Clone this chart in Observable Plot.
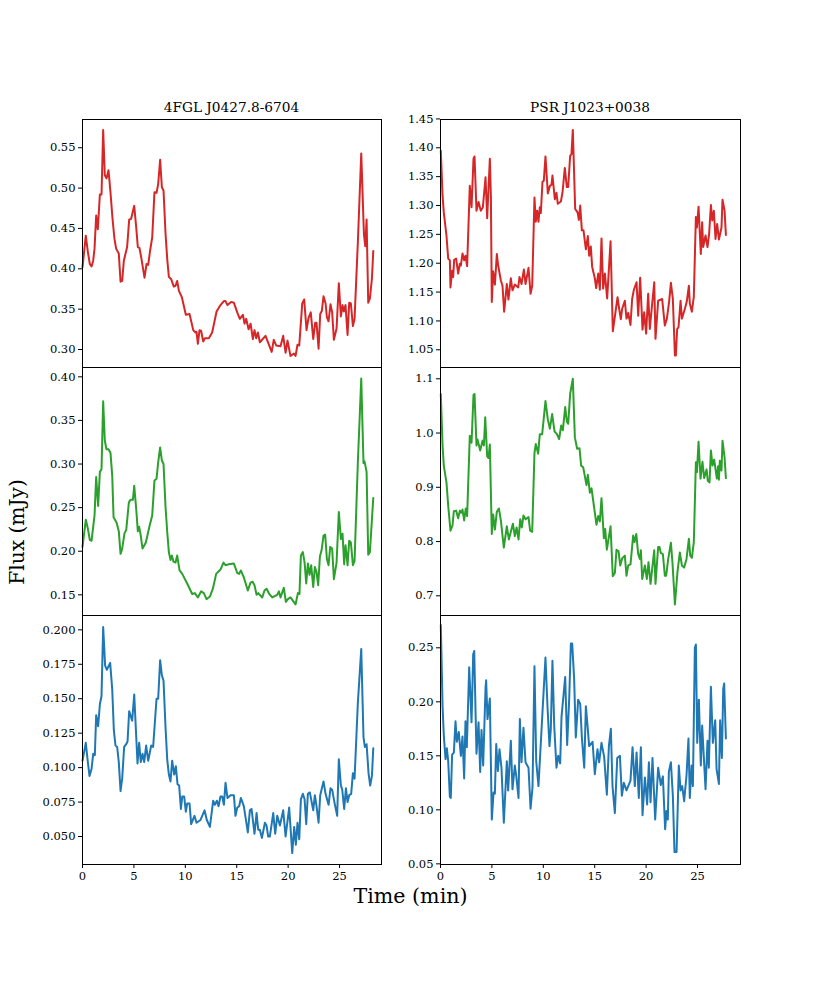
<!DOCTYPE html>
<html>
<head>
<meta charset="utf-8">
<script src="https://cdn.jsdelivr.net/npm/d3@7"></script>
<script src="https://cdn.jsdelivr.net/npm/@observablehq/plot@0.6"></script>
<style>
  body { margin: 0; background: white; }
  #fig { position: relative; width: 822px; height: 987px; font-family: "DejaVu Serif", serif; color: #000; }
  #fig svg { position: absolute; }
  .lab { position: absolute; white-space: nowrap; transform: translate(-50%, -50%); }
</style>
</head>
<body>
<div id="fig"></div>
<script>
// [time (min), flux (mJy)]
const j0427Red = [[0,.402],[.32,.441],[.52,.421],[.71,.406],[.88,.403],[1.04,.41],[1.17,.425],[1.33,.466],[1.49,.449],[1.69,.492],[1.85,.492],[2.01,.572],[2.17,.516],[2.33,.512],[2.53,.522],[2.72,.495],[2.92,.462],[3.11,.437],[3.27,.425],[3.53,.419],[3.7,.384],[3.86,.385],[4.02,.41],[4.34,.427],[4.54,.461],[4.73,.462],[5.03,.478],[5.22,.452],[5.38,.427],[5.54,.426],[5.74,.412],[6.03,.389],[6.23,.406],[6.39,.405],[6.58,.423],[6.78,.439],[7,.495],[7.2,.494],[7.36,.505],[7.55,.535],[7.72,.501],[7.88,.497],[8.07,.445],[8.24,.412],[8.4,.39],[8.63,.387],[8.88,.378],[9.05,.379],[9.21,.385],[9.37,.373],[9.66,.365],[10.05,.343],[10.41,.344],[10.77,.324],[10.99,.321],[11.09,.322],[11.22,.307],[11.38,.324],[11.54,.323],[11.74,.31],[11.9,.314],[12.29,.314],[12.61,.321],[13.04,.347],[13.36,.354],[13.75,.36],[13.91,.36],[14.1,.355],[14.46,.359],[14.72,.358],[15.05,.346],[15.3,.338],[15.6,.343],[15.76,.332],[15.92,.338],[16.15,.325],[16.35,.332],[16.57,.313],[16.73,.324],[16.9,.314],[17.06,.321],[17.25,.309],[17.8,.317],[18.1,.307],[18.4,.297],[18.6,.312],[18.84,.305],[19.26,.304],[19.52,.317],[19.75,.296],[19.94,.311],[20.23,.292],[20.56,.295],[20.72,.292],[20.91,.306],[21.08,.305],[21.37,.357],[21.56,.362],[21.79,.324],[21.98,.339],[22.2,.346],[22.44,.313],[22.63,.333],[22.76,.333],[22.96,.301],[23.12,.344],[23.28,.348],[23.44,.366],[23.64,.357],[23.77,.34],[23.93,.335],[24.12,.356],[24.28,.346],[24.45,.312],[24.71,.326],[24.93,.382],[25.13,.341],[25.29,.355],[25.42,.347],[25.58,.355],[25.78,.318],[25.94,.358],[26.1,.357],[26.3,.329],[26.46,.338],[26.78,.433],[27.11,.543],[27.37,.443],[27.5,.428],[27.63,.461],[27.79,.358],[27.95,.363],[28.15,.388],[28.28,.422]];

const j0427Green = [[0,.205],[.32,.236],[.52,.226],[.71,.213],[.88,.212],[1.17,.241],[1.33,.285],[1.52,.252],[1.69,.291],[1.85,.294],[2.01,.372],[2.17,.327],[2.33,.317],[2.53,.317],[2.72,.313],[2.89,.287],[3.02,.239],[3.31,.233],[3.53,.223],[3.7,.197],[3.86,.203],[4.09,.221],[4.25,.224],[4.51,.256],[4.67,.259],[4.9,.259],[5.03,.275],[5.22,.249],[5.38,.223],[5.51,.228],[5.64,.22],[5.84,.203],[6.16,.21],[6.52,.229],[6.78,.241],[7,.281],[7.2,.283],[7.36,.302],[7.55,.319],[7.72,.304],[7.88,.3],[8.07,.252],[8.24,.222],[8.4,.199],[8.56,.19],[8.69,.195],[8.85,.188],[9.05,.187],[9.21,.195],[9.44,.178],[9.7,.174],[10.18,.163],[10.67,.151],[10.93,.152],[11.22,.147],[11.54,.154],[11.8,.152],[12.06,.145],[12.39,.148],[12.68,.157],[13,.174],[13.16,.176],[13.42,.179],[13.71,.187],[13.91,.184],[14.23,.185],[14.72,.186],[15.05,.175],[15.24,.174],[15.4,.178],[15.69,.17],[16.08,.155],[16.34,.164],[16.54,.165],[16.73,.161],[16.93,.15],[17.09,.152],[17.48,.147],[17.7,.155],[17.9,.157],[18.16,.151],[18.45,.147],[18.94,.15],[19.1,.154],[19.26,.147],[19.58,.158],[19.78,.142],[19.97,.145],[20.23,.147],[20.72,.139],[20.95,.152],[21.1,.151],[21.24,.195],[21.43,.199],[21.6,.187],[21.76,.163],[21.92,.186],[22.08,.173],[22.24,.184],[22.44,.159],[22.6,.182],[22.76,.176],[22.92,.161],[23.09,.194],[23.25,.201],[23.44,.218],[23.6,.219],[23.77,.191],[23.93,.184],[24.09,.205],[24.28,.203],[24.45,.168],[24.71,.187],[24.93,.245],[25.13,.214],[25.29,.22],[25.45,.185],[25.58,.207],[25.78,.184],[25.94,.212],[26.1,.21],[26.3,.184],[26.46,.189],[26.78,.302],[27.11,.398],[27.33,.301],[27.43,.303],[27.63,.291],[27.79,.196],[27.95,.199],[28.28,.261]];

const j0427Blue = [[0,.105],[.32,.118],[.52,.104],[.68,.094],[.88,.099],[1.04,.11],[1.2,.109],[1.33,.138],[1.52,.13],[1.69,.146],[1.85,.152],[2.01,.202],[2.2,.174],[2.37,.171],[2.69,.176],[2.89,.157],[3.05,.127],[3.21,.116],[3.37,.115],[3.53,.104],[3.7,.083],[3.86,.092],[4.05,.115],[4.25,.117],[4.38,.119],[4.54,.141],[4.83,.134],[5.03,.153],[5.19,.128],[5.35,.103],[5.51,.118],[5.67,.104],[5.84,.11],[6,.104],[6.19,.116],[6.39,.105],[6.68,.116],[6.87,.115],[7.2,.15],[7.36,.15],[7.55,.178],[7.72,.167],[7.88,.163],[8.07,.13],[8.24,.106],[8.4,.095],[8.56,.09],[8.72,.105],[8.92,.095],[9.08,.101],[9.24,.088],[9.4,.087],[9.57,.07],[9.7,.079],[9.89,.079],[10.05,.068],[10.18,.074],[10.41,.074],[10.57,.059],[10.89,.065],[11.09,.06],[11.48,.062],[11.87,.069],[12.09,.062],[12.39,.057],[12.71,.076],[12.87,.073],[13.07,.076],[13.23,.072],[13.42,.079],[13.59,.079],[13.75,.073],[13.91,.089],[14.1,.078],[14.4,.08],[14.72,.08],[14.88,.065],[15.05,.071],[15.24,.072],[15.4,.078],[15.69,.072],[16.08,.053],[16.28,.069],[16.44,.07],[16.73,.052],[16.93,.067],[17.09,.055],[17.25,.055],[17.45,.049],[17.74,.06],[17.9,.058],[18.06,.05],[18.22,.05],[18.55,.067],[18.74,.052],[18.94,.065],[19.2,.058],[19.52,.069],[19.75,.05],[20.1,.071],[20.4,.038],[20.59,.057],[20.75,.044],[20.91,.06],[21.08,.048],[21.24,.077],[21.43,.081],[21.6,.077],[21.76,.059],[21.92,.081],[22.11,.082],[22.44,.069],[22.6,.08],[22.76,.072],[22.96,.06],[23.12,.08],[23.44,.09],[23.64,.081],[23.93,.073],[24.12,.085],[24.28,.084],[24.55,.073],[24.77,.065],[24.93,.106],[25.13,.087],[25.26,.084],[25.45,.07],[25.62,.085],[25.78,.075],[25.94,.08],[26.13,.081],[26.3,.096],[26.46,.092],[26.78,.147],[27.11,.186],[27.33,.122],[27.46,.115],[27.63,.117],[27.82,.096],[27.98,.087],[28.15,.094],[28.28,.114]];

const j1023Red = [[.03,1.395],[.2,1.317],[.32,1.288],[.58,1.248],[.75,1.208],[.91,1.205],[.97,1.158],[1.13,1.187],[1.23,1.176],[1.33,1.206],[1.52,1.208],[1.72,1.182],[1.88,1.199],[1.98,1.196],[2.14,1.217],[2.3,1.205],[2.43,1.213],[2.59,1.195],[2.85,1.334],[3.02,1.297],[3.21,1.381],[3.31,1.385],[3.5,1.291],[3.7,1.306],[3.92,1.291],[4.12,1.297],[4.38,1.349],[4.54,1.278],[4.8,1.381],[4.9,1.317],[4.99,1.133],[5.12,1.186],[5.29,1.163],[5.48,1.216],[5.61,1.196],[5.87,1.17],[6.03,1.161],[6.19,1.116],[6.45,1.164],[6.61,1.137],[6.84,1.174],[7,1.153],[7.23,1.163],[7.56,1.158],[7.68,1.176],[7.88,1.164],[8.11,1.189],[8.27,1.164],[8.56,1.192],[8.76,1.147],[8.92,1.161],[9.14,1.314],[9.27,1.272],[9.4,1.291],[9.53,1.272],[9.66,1.297],[9.76,1.287],[9.92,1.341],[10.05,1.343],[10.21,1.385],[10.44,1.321],[10.64,1.334],[10.8,1.336],[10.89,1.352],[11.12,1.311],[11.28,1.322],[11.41,1.303],[11.71,1.307],[11.87,1.323],[12.09,1.365],[12.29,1.332],[12.42,1.332],[12.61,1.386],[12.74,1.389],[12.87,1.431],[13.1,1.294],[13.33,1.288],[13.46,1.275],[13.59,1.3],[13.75,1.257],[13.91,1.257],[14.14,1.224],[14.33,1.247],[14.46,1.213],[14.62,1.229],[14.75,1.194],[15.01,1.174],[15.14,1.157],[15.34,1.182],[15.5,1.154],[15.66,1.243],[15.82,1.156],[15.99,1.182],[16.21,1.139],[16.54,1.238],[16.76,1.082],[17.22,1.141],[17.38,1.121],[17.54,1.103],[17.67,1.121],[17.93,1.135],[18.09,1.104],[18.26,1.114],[18.48,1.093],[18.64,1.138],[18.81,1.154],[19.07,1.167],[19.23,1.109],[19.42,1.175],[19.65,1.085],[19.81,1.115],[20,1.078],[20.2,1.147],[20.36,1.086],[20.59,1.13],[20.79,1.167],[20.91,1.069],[21.17,1.135],[21.56,1.138],[21.82,1.092],[22.02,1.104],[22.24,1.134],[22.41,1.166],[22.6,1.138],[22.8,1.04],[22.89,1.04],[23.02,1.086],[23.15,1.089],[23.35,1.135],[23.48,1.104],[23.77,1.121],[23.96,1.134],[24.16,1.161],[24.25,1.13],[24.45,1.116],[24.64,1.142],[24.84,1.28],[24.94,1.262],[25.1,1.298],[25.32,1.216],[25.45,1.271],[25.55,1.228],[25.78,1.248],[25.97,1.228],[26.13,1.251],[26.3,1.301],[26.43,1.274],[26.59,1.291],[26.75,1.242],[26.91,1.268],[27.08,1.241],[27.33,1.262],[27.43,1.31],[27.63,1.291],[27.76,1.249]];

const j1023Green = [[.03,1.072],[.2,.977],[.32,.94],[.58,.909],[.75,.866],[.97,.82],[1.17,.83],[1.3,.856],[1.52,.857],[1.72,.843],[1.88,.857],[2.01,.853],[2.14,.859],[2.3,.839],[2.46,.861],[2.59,.847],[2.85,.995],[3.02,.982],[3.21,1.07],[3.31,1.072],[3.5,.977],[3.6,.988],[3.86,.968],[4.09,.986],[4.22,.977],[4.35,1.029],[4.54,.957],[4.67,.954],[4.8,.979],[4.99,.814],[5.12,.85],[5.29,.822],[5.48,.855],[5.68,.861],[5.87,.839],[6.16,.789],[6.45,.828],[6.65,.804],[7.04,.833],[7.23,.81],[7.4,.826],[7.59,.804],[7.75,.841],[7.91,.826],[8.07,.848],[8.27,.841],[8.56,.845],[8.72,.82],[8.92,.818],[9.14,.963],[9.27,.98],[9.5,.962],[9.66,.998],[9.89,.998],[10.21,1.059],[10.44,1.025],[10.64,1.008],[10.86,1.035],[11.09,1.003],[11.32,.998],[11.54,.989],[11.74,1.014],[11.9,1.005],[12.13,1.048],[12.29,1.021],[12.42,1.017],[12.61,1.072],[12.87,1.1],[13.07,.992],[13.29,.971],[13.52,.972],[13.68,.94],[13.88,.937],[14.2,.904],[14.33,.923],[14.53,.89],[14.69,.898],[14.92,.866],[15.17,.831],[15.34,.847],[15.5,.837],[15.66,.88],[15.89,.806],[16.02,.823],[16.18,.785],[16.54,.828],[16.76,.736],[16.96,.742],[17.12,.785],[17.32,.782],[17.48,.756],[17.67,.769],[17.93,.774],[18.09,.737],[18.26,.756],[18.48,.758],[18.74,.811],[18.87,.799],[19.04,.814],[19.23,.777],[19.39,.768],[19.49,.784],[19.62,.731],[19.88,.756],[20.07,.731],[20.23,.762],[20.43,.722],[20.79,.784],[20.91,.722],[21.17,.79],[21.3,.79],[21.43,.779],[21.63,.777],[21.82,.737],[21.95,.737],[22.15,.768],[22.41,.798],[22.57,.759],[22.8,.684],[23.05,.744],[23.28,.78],[23.48,.756],[23.7,.752],[23.93,.768],[24.16,.805],[24.29,.774],[24.45,.77],[24.64,.799],[24.84,.946],[24.94,.928],[25.1,.984],[25.29,.916],[25.48,.947],[25.65,.917],[25.88,.933],[26,.912],[26.17,.909],[26.3,.968],[26.46,.94],[26.62,.951],[26.88,.916],[27,.939],[27.08,.914],[27.17,.949],[27.33,.931],[27.43,.986],[27.63,.955],[27.76,.917]];

const j1023Blue = [[.03,.271],[.2,.196],[.32,.169],[.49,.147],[.62,.157],[.75,.145],[.91,.112],[1,.111],[1.13,.151],[1.3,.153],[1.46,.182],[1.59,.163],[1.78,.172],[1.98,.15],[2.14,.168],[2.3,.129],[2.43,.182],[2.56,.158],[2.79,.232],[3.02,.181],[3.18,.244],[3.28,.247],[3.5,.152],[3.7,.181],[3.86,.135],[3.99,.174],[4.15,.141],[4.38,.213],[4.44,.22],[4.57,.184],[4.8,.203],[4.99,.091],[5.16,.116],[5.29,.115],[5.42,.161],[5.58,.136],[5.74,.156],[5.93,.139],[6.16,.088],[6.45,.145],[6.58,.118],[6.84,.164],[7,.119],[7.23,.141],[7.36,.132],[7.59,.111],[7.72,.184],[7.88,.144],[8.07,.176],[8.27,.144],[8.56,.139],[8.76,.101],[8.95,.121],[9.14,.233],[9.31,.145],[9.53,.122],[9.82,.173],[10.21,.241],[10.41,.195],[10.6,.159],[10.73,.175],[10.89,.238],[11.06,.178],[11.28,.139],[11.45,.15],[11.64,.143],[11.77,.186],[12.13,.223],[12.32,.16],[12.52,.203],[12.68,.254],[12.81,.254],[13,.221],[13.16,.167],[13.39,.202],[13.59,.198],[13.75,.167],[13.98,.139],[14.14,.196],[14.3,.178],[14.46,.159],[14.79,.163],[15.01,.133],[15.27,.156],[15.43,.144],[15.66,.162],[15.92,.149],[16.18,.114],[16.38,.159],[16.57,.175],[16.73,.122],[16.96,.097],[17.19,.148],[17.45,.15],[17.64,.113],[17.83,.125],[18.09,.118],[18.48,.127],[18.68,.158],[18.9,.122],[19.07,.153],[19.29,.111],[19.49,.158],[19.65,.095],[19.88,.13],[20.1,.105],[20.27,.144],[20.43,.107],[20.62,.148],[20.88,.091],[21.17,.139],[21.43,.123],[21.63,.131],[21.85,.082],[21.98,.099],[22.11,.091],[22.21,.135],[22.41,.144],[22.6,.113],[22.76,.061],[22.96,.061],[23.18,.141],[23.35,.118],[23.51,.122],[23.7,.108],[23.93,.132],[24.12,.166],[24.25,.111],[24.42,.141],[24.55,.122],[24.74,.25],[24.84,.253],[24.97,.162],[25.13,.202],[25.32,.141],[25.45,.178],[25.78,.119],[25.97,.164],[26.1,.139],[26.3,.214],[26.49,.162],[26.72,.183],[26.85,.138],[27.08,.124],[27.2,.183],[27.37,.148],[27.5,.212],[27.59,.217],[27.76,.166]];

// tick labels per panel
const xTicks = [0, 5, 10, 15, 20, 25];
const ticksLT = [0.30, 0.35, 0.40, 0.45, 0.50, 0.55];
const ticksLM = [0.15, 0.20, 0.25, 0.30, 0.35, 0.40];
const ticksLB = [0.050, 0.075, 0.100, 0.125, 0.150, 0.175, 0.200];
const ticksRT = [1.05, 1.10, 1.15, 1.20, 1.25, 1.30, 1.35, 1.40, 1.45];
const ticksRM = [0.7, 0.8, 0.9, 1.0, 1.1];
const ticksRB = [0.05, 0.10, 0.15, 0.20, 0.25];

const fig = document.getElementById("fig");
const mLeft = 50, mRight = 2, mTop = 2;

function panel(o) {
  const bottomRow = o.top > 600;
  const mBottom = bottomRow ? 26 : 2;
  const chart = Plot.plot({
    width: mLeft + o.w + mRight,
    height: mTop + o.h + mBottom,
    marginLeft: mLeft, marginRight: mRight, marginTop: mTop, marginBottom: mBottom,
    style: {background: "none", overflow: "visible", fontFamily: "DejaVu Serif, serif", fontSize: "11.5px", color: "#000"},
    x: {domain: o.xDomain, axis: null},
    y: {domain: o.yDomain, axis: null},
    marks: [
      Plot.line(o.data, {x: d => d[0], y: d => d[1], stroke: o.color, strokeWidth: 2}),
      Plot.frame({stroke: "#000", strokeWidth: 1}),
      Plot.axisY(o.ticks, {tickSize: 4, tickPadding: 3, tickFormat: d3.format(o.fmt), label: null, stroke: "#000", fill: "#000"}),
      bottomRow ? Plot.axisX(xTicks, {tickSize: 4, tickPadding: 3, label: null, stroke: "#000", fill: "#000"}) : null
    ]
  });
  chart.style.left = (o.left - mLeft) + "px";
  chart.style.top = (o.top - mTop) + "px";
  fig.append(chart);
}

const xL = [0, 29.08], xR = [0, 29.18];
panel({left: 82, top: 119, w: 299, h: 248, xDomain: xL, yDomain: [0.2777, 0.585], data: j0427Red, color: "#d62728", ticks: ticksLT, fmt: ".2f"});
panel({left: 82, top: 367, w: 299, h: 248, xDomain: xL, yDomain: [0.1263, 0.4107], data: j0427Green, color: "#2ca02c", ticks: ticksLM, fmt: ".2f"});
panel({left: 82, top: 615, w: 299, h: 249, xDomain: xL, yDomain: [0.0297, 0.2104], data: j0427Blue, color: "#1f77b4", ticks: ticksLB, fmt: ".3f"});
panel({left: 440, top: 119, w: 300, h: 248, xDomain: xR, yDomain: [1.0193, 1.449], data: j1023Red, color: "#d62728", ticks: ticksRT, fmt: ".2f"});
panel({left: 440, top: 367, w: 300, h: 248, xDomain: xR, yDomain: [0.6637, 1.1208], data: j1023Green, color: "#2ca02c", ticks: ticksRM, fmt: ".1f"});
panel({left: 440, top: 615, w: 300, h: 249, xDomain: xR, yDomain: [0.0494, 0.2799], data: j1023Blue, color: "#1f77b4", ticks: ticksRB, fmt: ".2f"});

function label(text, x, y, size, rot) {
  const d = document.createElement("div");
  d.className = "lab";
  d.textContent = text;
  d.style.left = x + "px";
  d.style.top = y + "px";
  d.style.fontSize = size + "px";
  if (rot) d.style.transform = "translate(-50%, -50%) rotate(-90deg)";
  fig.append(d);
}
label("4FGL J0427.8-6704", 231.5, 107, 13.7);
label("PSR J1023+0038", 590, 107, 13.7);
label("Time (min)", 410.5, 896, 20.6);
label("Flux (mJy)", 17, 532, 20.2, true);
</script>
</body>
</html>
